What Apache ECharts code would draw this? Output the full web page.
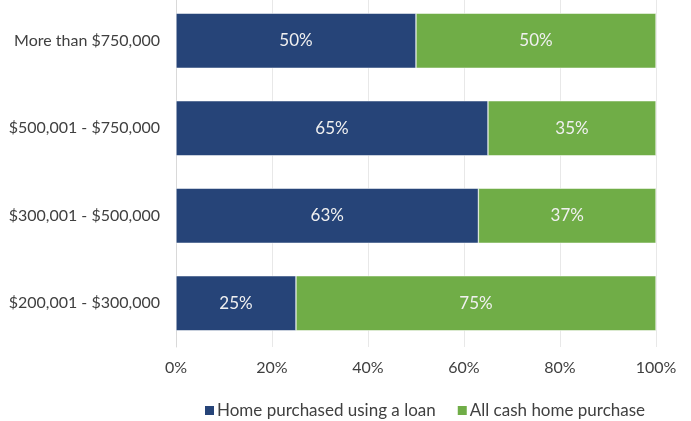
<!DOCTYPE html>
<html>
<head>
<meta charset="utf-8">
<script src="https://cdn.jsdelivr.net/npm/echarts@6/dist/echarts.min.js"></script>
<style>
  html, body { margin: 0; padding: 0; background: #fff; overflow: hidden; }
  #chart { position: absolute; left: 0; top: -3px; width: 691px; height: 424px; }
</style>
</head>
<body>
<div id="chart"></div>
<script>
// Price bands, listed bottom to top
const categories = [
  '$200,001 - $300,000',
  '$300,001 - $500,000',
  '$500,001 - $750,000',
  'More than $750,000'
];
const loanShare = [25, 63, 65, 50];
const cashShare = [75, 37, 35, 50];
const tickLabels = ['0%', '20%', '40%', '60%', '80%', '100%'];

const FONT = 'Lato, "Open Sans", sans-serif';

const chart = echarts.init(document.getElementById('chart'));

const labelStyle = {
  show: true,
  position: 'inside',
  color: '#f0f0f0',
  fontFamily: FONT,
  fontSize: 17,
  formatter: p => p.value + '%'
};

chart.setOption({
  animation: false,
  textStyle: { fontFamily: FONT },
  grid: { left: 176, right: 35, top: 0, height: 350, containLabel: false },
  xAxis: {
    type: 'value',
    min: 0,
    max: 100,
    interval: 20,
    axisLine: { show: false },
    axisTick: { show: false },
    splitLine: { show: true, lineStyle: { color: '#e8e8e8', width: 1 } },
    axisLabel: {
      color: '#404040',
      fontSize: 16,
      fontFamily: FONT,
      margin: 13,
      formatter: v => tickLabels[v / 20]
    }
  },
  yAxis: {
    type: 'category',
    data: categories,
    axisLine: { show: true, lineStyle: { color: '#d9d9d9', width: 1 } },
    axisTick: { show: false },
    axisLabel: { color: '#404040', fontSize: 16, fontFamily: FONT, margin: 16 }
  },
  legend: {
    top: 400,
    left: 198,
    itemWidth: 11,
    itemHeight: 11,
    itemGap: 20,
    icon: 'rect',
    textStyle: { color: '#404040', fontSize: 17, fontFamily: FONT, padding: [0, 0, 0, -3] },
    data: ['Home purchased using a loan', 'All cash home purchase']
  },
  series: [
    {
      name: 'Home purchased using a loan',
      type: 'bar',
      stack: 'share',
      data: loanShare,
      barWidth: 55,
      itemStyle: { color: '#264478', borderColor: '#ffffff', borderWidth: 0.5 },
      label: labelStyle
    },
    {
      name: 'All cash home purchase',
      type: 'bar',
      stack: 'share',
      data: cashShare,
      barWidth: 55,
      itemStyle: { color: '#70AD47', borderColor: '#ffffff', borderWidth: 0.5 },
      label: labelStyle
    }
  ]
});
</script>
</body>
</html>
